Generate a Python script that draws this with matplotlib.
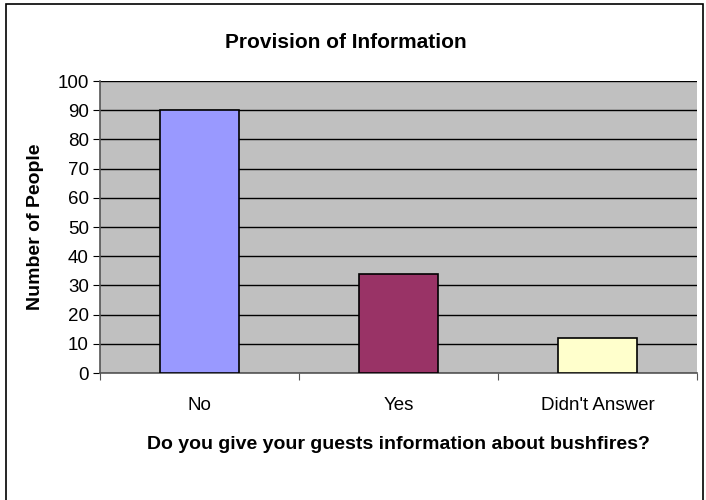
import matplotlib
matplotlib.use("Agg")
import matplotlib.pyplot as plt
from matplotlib.patches import Rectangle

categories = ["No", "Yes", "Didn't Answer"]
counts = [90, 34, 12]
colors = ["#9999FF", "#993366", "#FFFFCC"]
yticks = list(range(0, 101, 10))

plt.rcParams["font.family"] = ["Liberation Sans", "DejaVu Sans"]

fig = plt.figure(figsize=(7.06, 5.0), dpi=100)
# outer chart frame
fig.patches.append(Rectangle((6 / 706, -0.1), 697 / 706, 1 - 4 / 500 + 0.1,
                             transform=fig.transFigure, fill=False,
                             edgecolor="black", linewidth=1.2))

ax = fig.add_axes([100 / 706, 1 - 373 / 500, 597 / 706, 292 / 500])
ax.set_facecolor("#C0C0C0")

x = list(range(len(categories)))
ax.bar(x, counts, width=0.4, color=colors, edgecolor="black", linewidth=1.2, zorder=3)

ax.set_xlim(-0.5, len(categories) - 0.5)
ax.set_ylim(0, 100)
ax.set_yticks(yticks)
ax.yaxis.grid(True, color="black", linewidth=1.0, zorder=1)
ax.set_axisbelow(True)

ax.set_xticks([i - 0.5 for i in range(len(categories) + 1)])
ax.set_xticklabels([])
ax.set_xticks(x, minor=True)
ax.set_xticklabels(categories, minor=True, fontsize=13.5)
ax.tick_params(axis="x", which="minor", length=0, pad=17)
ax.tick_params(axis="x", which="major", length=5, direction="out", color="#555555")
ax.tick_params(axis="y", length=5, direction="out", labelsize=13.5, pad=3)

for side in ["top", "right"]:
    ax.spines[side].set_visible(False)
ax.spines["left"].set_color("#555555")
ax.spines["bottom"].set_color("#555555")
ax.spines["left"].set_linewidth(1.2)
ax.spines["bottom"].set_linewidth(1.2)

ax.set_ylabel("Number of People", fontsize=14, fontweight="bold", labelpad=10)
ax.set_xlabel("Do you give your guests information about bushfires?", fontsize=14,
              fontweight="bold", labelpad=16)
fig.text(0.49, 1 - 42 / 500, "Provision of Information", ha="center", va="center",
         fontsize=15, fontweight="bold")

fig.savefig("out.png", dpi=100)
